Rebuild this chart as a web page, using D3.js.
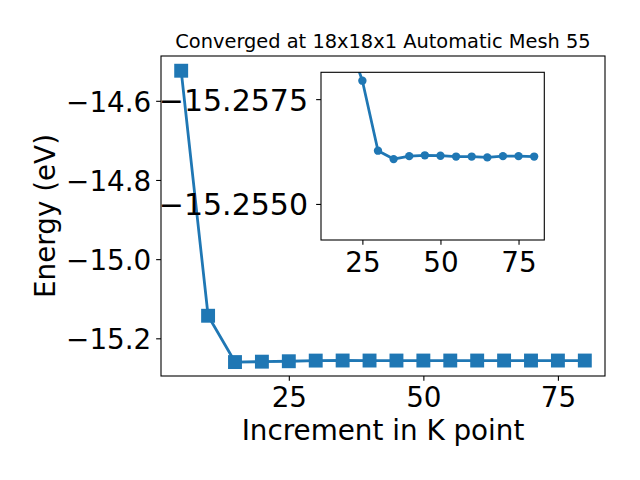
<!DOCTYPE html>
<html>
<head>
<meta charset="utf-8">
<script src="https://cdn.jsdelivr.net/npm/d3@7"></script>
<style>
  html, body { margin: 0; padding: 0; background: #fff; }
  svg { display: block; font-family: "DejaVu Sans", sans-serif; }
</style>
</head>
<body>
<svg id="chart" width="640" height="480"></svg>
<script>
// ---- data ----
const kPoints = [5, 10, 15, 20, 25, 30, 35, 40, 45, 50, 55, 60, 65, 70, 75, 80];
const energies = [-14.524, -15.143, -15.2600, -15.2590, -15.25794, -15.25627, -15.25607, -15.25614,
                  -15.25616, -15.25615, -15.25613, -15.25613, -15.25611, -15.25614, -15.25614, -15.25613];
const mainXTicks = [25, 50, 75];
const mainYTicks = [-14.6, -14.8, -15.0, -15.2];
const insetXTicks = [25, 50, 75];
const insetYTicks = [-15.2575, -15.2550];
const titleText = "Converged at 18x18x1 Automatic Mesh 55";
const xLabel = "Increment in K point";
const yLabel = "Energy (eV)";

const data = kPoints.map((k, i) => ({ k: k, e: energies[i] }));
const insetData = data.filter(d => d.k >= 15);

const color = "#1f77b4";
const svg = d3.select("#chart");
const fs = 27.8;
const fsInsetY = 30;
const tickLen = 4.86;

// ---- main axes ----
const M = { left: 161, right: 605, top: 56, bottom: 376 };
const x = d3.scaleLinear().domain([1.25, 83.75]).range([M.left, M.right]);
const y = d3.scaleLinear().domain([-15.2952, -14.4868]).range([M.bottom, M.top]);

const gMain = svg.append("g");
gMain.append("defs").append("clipPath").attr("id", "clipMain")
  .append("rect").attr("x", M.left).attr("y", M.top)
  .attr("width", M.right - M.left).attr("height", M.bottom - M.top);

const line = d3.line().x(d => x(d.k)).y(d => y(d.e));
const plotMain = gMain.append("g").attr("clip-path", "url(#clipMain)");
plotMain.append("path").datum(data).attr("d", line)
  .attr("fill", "none").attr("stroke", color).attr("stroke-width", 2.78)
  .attr("stroke-linejoin", "round");
const sq = 13.9;
plotMain.selectAll("rect.pt").data(data).enter().append("rect")
  .attr("class", "pt")
  .attr("x", d => x(d.k) - sq / 2).attr("y", d => y(d.e) - sq / 2)
  .attr("width", sq).attr("height", sq).attr("fill", color);

const xAxis = d3.axisBottom(x).tickValues(mainXTicks).tickSize(tickLen).tickPadding(4.86)
  .tickFormat(d3.format("d"));
const yAxis = d3.axisLeft(y).tickValues(mainYTicks).tickSize(tickLen).tickPadding(4.86)
  .tickFormat(d3.format(".1f"));
const gx = gMain.append("g").attr("transform", `translate(0,${M.bottom})`).call(xAxis);
const gy = gMain.append("g").attr("transform", `translate(${M.left},0)`).call(yAxis);
[gx, gy].forEach(g => {
  g.select(".domain").remove();
  g.selectAll("line").attr("stroke", "#000").attr("stroke-width", 1.1);
  g.selectAll("text").attr("font-size", fs).attr("fill", "#000")
    .attr("font-family", "DejaVu Sans");
});
gx.selectAll("text").attr("dy", null).attr("y", 31);
gy.selectAll("text").attr("dy", null).attr("y", 10.3);

gMain.append("rect").attr("x", M.left).attr("y", M.top)
  .attr("width", M.right - M.left).attr("height", M.bottom - M.top)
  .attr("fill", "none").attr("stroke", "#000").attr("stroke-width", 1.1);

svg.append("text").attr("x", (M.left + M.right) / 2).attr("y", 47.7)
  .attr("text-anchor", "middle").attr("font-size", 19.4).text(titleText);
svg.append("text").attr("x", (M.left + M.right) / 2).attr("y", 440)
  .attr("text-anchor", "middle").attr("font-size", fs).text(xLabel);
svg.append("text").attr("transform", `translate(55,${(M.top + M.bottom) / 2}) rotate(-90)`)
  .attr("text-anchor", "middle").attr("font-size", fs).text(yLabel);

// ---- inset axes ----
const I = { left: 321, right: 544.3, top: 72.3, bottom: 240 };
const xi = d3.scaleLinear().domain([11.75, 83.25]).range([I.left, I.right]);
const yi = d3.scaleLinear().domain([-15.25814, -15.25414]).range([I.top, I.bottom]);

const gIn = svg.append("g");
gIn.append("rect").attr("x", I.left).attr("y", I.top)
  .attr("width", I.right - I.left).attr("height", I.bottom - I.top).attr("fill", "#fff");
gIn.append("defs").append("clipPath").attr("id", "clipIn")
  .append("rect").attr("x", I.left).attr("y", I.top)
  .attr("width", I.right - I.left).attr("height", I.bottom - I.top);
const lineI = d3.line().x(d => xi(d.k)).y(d => yi(d.e));
const plotIn = gIn.append("g").attr("clip-path", "url(#clipIn)");
plotIn.append("path").datum(insetData).attr("d", lineI)
  .attr("fill", "none").attr("stroke", color).attr("stroke-width", 2.78)
  .attr("stroke-linejoin", "round");
plotIn.selectAll("circle").data(insetData).enter().append("circle")
  .attr("cx", d => xi(d.k)).attr("cy", d => yi(d.e)).attr("r", 4.17).attr("fill", color);

const xiAxis = d3.axisBottom(xi).tickValues(insetXTicks).tickSize(tickLen).tickPadding(4.86)
  .tickFormat(d3.format("d"));
const yiAxis = d3.axisLeft(yi).tickValues(insetYTicks).tickSize(tickLen).tickPadding(4.86)
  .tickFormat(d3.format(".4f"));
const gxi = gIn.append("g").attr("transform", `translate(0,${I.bottom})`).call(xiAxis);
const gyi = gIn.append("g").attr("transform", `translate(${I.left},0)`).call(yiAxis);
[gxi, gyi].forEach(g => {
  g.select(".domain").remove();
  g.selectAll("line").attr("stroke", "#000").attr("stroke-width", 1.1);
  g.selectAll("text").attr("fill", "#000").attr("font-family", "DejaVu Sans");
});
gxi.selectAll("text").attr("font-size", fs).attr("dy", null).attr("y", 32);
gyi.selectAll("text").attr("font-size", fsInsetY).attr("dy", null).attr("y", 10.9).attr("x", -13);

gIn.append("rect").attr("x", I.left).attr("y", I.top)
  .attr("width", I.right - I.left).attr("height", I.bottom - I.top)
  .attr("fill", "none").attr("stroke", "#000").attr("stroke-width", 1.1);
</script>
</body>
</html>
